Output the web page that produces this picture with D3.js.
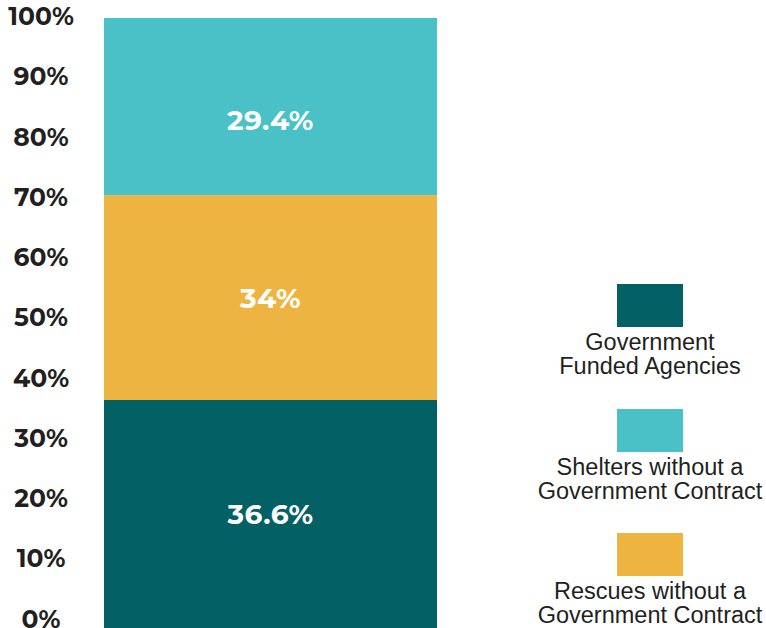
<!DOCTYPE html>
<html>
<head>
<meta charset="utf-8">
<script src="https://cdn.jsdelivr.net/npm/d3@7"></script>
<style>
  html, body { margin: 0; padding: 0; background: #ffffff; }
  svg { display: block; }
</style>
</head>
<body>
<svg id="chart" width="766" height="628"></svg>
<script>
// Data (stack order bottom to top)
const categories = ["Government Funded Agencies", "Rescues without a Government Contract", "Shelters without a Government Contract"];
const values = [36.6, 34, 29.4];
const valueLabels = ["36.6%", "34%", "29.4%"];
const colors = ["#036165", "#eeb442", "#4ac1c6"];
const tickValues = [0, 10, 20, 30, 40, 50, 60, 70, 80, 90, 100];
// Legend order and labels
const legendOrder = [0, 2, 1];
const legendLines = [
  ["Government", "Funded Agencies"],
  ["Rescues without a", "Government Contract"],
  ["Shelters without a", "Government Contract"]
];

const W = 766, H = 628;
const svg = d3.select("#chart");

const y = d3.scaleLinear().domain([0, 100]).range([620.5, 18]);
const x = d3.scaleBand().domain(["all"]).range([104, 437]).padding(0);

// stacked segments
let acc = 0;
const segs = values.map((v, i) => {
  const s = { i, y0: acc, y1: acc + v, v };
  acc += v;
  return s;
});

const g = svg.append("g");
g.selectAll("rect.seg").data(segs).join("rect")
  .attr("class", "seg")
  .attr("x", x("all"))
  .attr("width", x.bandwidth())
  .attr("y", d => y(d.y1))
  .attr("height", d => (d.y0 === 0 ? H : y(d.y0)) - y(d.y1))
  .attr("fill", d => colors[d.i]);

g.selectAll("text.val").data(segs).join("text")
  .attr("class", "val")
  .attr("x", x("all") + x.bandwidth() / 2)
  .attr("y", d => ((d.y0 === 0 ? H : y(d.y0)) + y(d.y1)) / 2 + (d.y1 >= 100 ? 13 : 0))
  .attr("dy", "0.36em")
  .attr("text-anchor", "middle")
  .attr("fill", "#ffffff")
  .style("font-family", "Montserrat, 'DejaVu Sans', sans-serif")
  .style("font-weight", "700")
  .style("font-size", "28px")
  .style("letter-spacing", "0.5px")
  .text(d => valueLabels[d.i]);

// Y axis labels
const axis = d3.axisLeft(y).tickValues(tickValues).tickFormat(d => d + "%").tickSize(0).tickPadding(0);
const ag = svg.append("g").attr("transform", "translate(41,-1.5)").call(axis);
ag.select(".domain").remove();
ag.selectAll("text")
  .attr("text-anchor", "middle")
  .attr("x", 0)
  .attr("fill", "#231f20")
  .style("font-family", "Montserrat, 'DejaVu Sans', sans-serif")
  .style("font-weight", "700")
  .style("font-size", "25px");

// Legend
const leg = svg.append("g");
const legTop = [284, 409, 533];
legendOrder.forEach((ci, k) => {
  const lg = leg.append("g").attr("transform", `translate(650,${legTop[k]})`);
  lg.append("rect").attr("x", -33).attr("y", 0).attr("width", 66).attr("height", 43).attr("fill", colors[ci]);
  legendLines[ci].forEach((line, li) => {
    lg.append("text")
      .attr("x", 0)
      .attr("y", 66 + li * 24)
      .attr("text-anchor", "middle")
      .attr("fill", "#231f20")
      .style("font-family", "'Liberation Sans', Arial, sans-serif")
      .style("font-size", "23.5px")
      .text(line);
  });
});
</script>
</body>
</html>
